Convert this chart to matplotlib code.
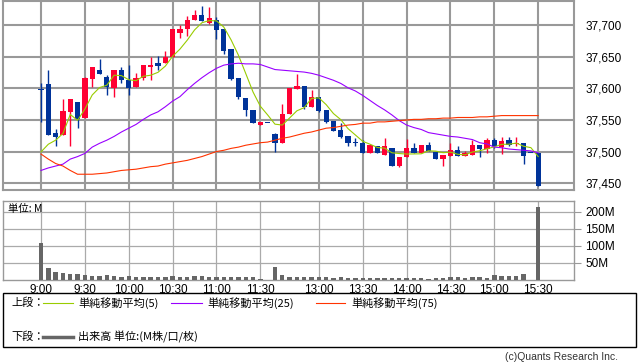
import numpy as np
import pandas as pd
import matplotlib as mpl
import matplotlib.pyplot as plt
from matplotlib.lines import Line2D
from matplotlib.patches import Rectangle

mpl.use("Agg")

plt.rcParams.update({"font.family": ["Liberation Sans", "DejaVu Sans"]})
plt.rcParams.update({"font.size": 8})

cjk = ["Noto Sans CJK JP", "DejaVu Sans"]

# 5 minute bars, 9:00 .. 15:30 (lunch removed)
tick_pos = [0, 6, 12, 18, 24, 30, 38, 44, 50, 56, 62, 68]
tick_labels = ["9:00", "9:30", "10:00", "10:30", "11:00", "11:30",
               "13:00", "13:30", "14:00", "14:30", "15:00", "15:30"]

opens = [37598, 37607, 37529, 37526, 37563, 37578, 37553, 37615, 37629, 37618,
         37601, 37630, 37613, 37603, 37617, 37634, 37641, 37641, 37650, 37688,
         37694, 37708, 37717, 37704, 37708, 37694, 37663, 37616, 37585, 37566,
         37542, 37546, 37528, 37514, 37559, 37599, 37604, 37571, 37586, 37566,
         37549, 37534, 37524, 37514, 37514, 37497, 37509, 37495, 37506, 37477,
         37492, 37506, 37497, 37510, 37500, 37488, 37493, 37502, 37493, 37494,
         37510, 37504, 37518, 37507, 37518, 37512, 37514, 37497, 37498]
highs = [37609, 37629, 37535, 37584, 37583, 37578, 37618, 37634, 37647, 37621,
         37630, 37634, 37637, 37624, 37637, 37650, 37651, 37660, 37694, 37700,
         37715, 37725, 37730, 37729, 37714, 37694, 37663, 37616, 37585, 37566,
         37547, 37546, 37530, 37575, 37601, 37623, 37604, 37598, 37586, 37566,
         37549, 37545, 37524, 37521, 37519, 37510, 37509, 37522, 37506, 37491,
         37520, 37513, 37510, 37515, 37500, 37494, 37513, 37509, 37501, 37518,
         37510, 37522, 37522, 37523, 37523, 37523, 37514, 37497, 37498]
lows = [37547, 37526, 37509, 37526, 37509, 37537, 37553, 37603, 37623, 37589,
        37587, 37608, 37589, 37603, 37613, 37613, 37629, 37641, 37650, 37680,
        37683, 37708, 37707, 37703, 37678, 37655, 37614, 37583, 37556, 37545,
        37542, 37546, 37500, 37514, 37559, 37599, 37567, 37570, 37562, 37546,
        37532, 37522, 37508, 37508, 37497, 37497, 37497, 37495, 37477, 37475,
        37491, 37498, 37497, 37501, 37488, 37477, 37493, 37493, 37493, 37494,
        37492, 37498, 37506, 37496, 37509, 37509, 37480, 37497, 37446]
closes = [37598, 37526, 37523, 37564, 37583, 37551, 37616, 37634, 37623, 37602,
          37630, 37613, 37601, 37616, 37637, 37638, 37636, 37650, 37694, 37694,
          37709, 37717, 37707, 37711, 37692, 37660, 37615, 37586, 37566, 37545,
          37547, 37546, 37513, 37559, 37601, 37604, 37571, 37586, 37564, 37547,
          37533, 37523, 37514, 37514, 37497, 37510, 37497, 37509, 37477, 37491,
          37506, 37498, 37510, 37501, 37488, 37494, 37502, 37493, 37497, 37510,
          37504, 37518, 37508, 37517, 37511, 37513, 37493, 37497, 37446]
prev_closes = [37465, 37491, 37511, 37432]

ma25 = [37470, 37474, 37477, 37480, 37488, 37492, 37497, 37507, 37513, 37518,
        37524, 37531, 37537, 37543, 37551, 37558, 37563, 37571, 37580, 37587,
        37598, 37608, 37617, 37625, 37632, 37637, 37639, 37640, 37639, 37639,
        37638, 37634, 37630, 37629, 37628, 37627, 37626, 37624, 37621, 37617,
        37613, 37608, 37601, 37596, 37589, 37581, 37573, 37566, 37558, 37549,
        37542, 37538, 37535, 37530, 37528, 37526, 37524, 37523, 37521, 37519,
        37514, 37512, 37507, 37506, 37504, 37503, 37502, 37501, 37498]
ma75 = [37496, 37488, 37481, 37477, 37470, 37464, 37464, 37464, 37465, 37466,
        37468, 37470, 37471, 37472, 37474, 37476, 37477, 37480, 37482, 37484,
        37486, 37489, 37492, 37496, 37500, 37502, 37505, 37507, 37510, 37512,
        37514, 37515, 37518, 37521, 37523, 37526, 37529, 37531, 37534, 37537,
        37538, 37540, 37542, 37543, 37545, 37545, 37547, 37547, 37548, 37549,
        37550, 37551, 37551, 37552, 37552, 37553, 37553, 37554, 37554, 37554,
        37555, 37555, 37556, 37557, 37557, 37557, 37557, 37557, 37557]

# volume, millions
volumes = [109, 36, 24, 20.5, 17.6, 17.6, 14.6, 12.7, 12.7, 14.6,
           12.7, 9.8, 12.7, 9.8, 9.8, 9.8, 7.8, 9.8, 12.7, 9.8,
           9.8, 12.7, 10.7, 9.8, 7.8, 7.8, 9.8, 9.8, 9.8, 8.8,
           2, 0, 39, 14.6, 9.8, 9.8, 9.8, 9.8, 7.8, 7.8,
           4.9, 8.8, 5.9, 5.9, 5.9, 5.9, 5.9, 5.9, 5.9, 5.9,
           5.9, 5.9, 5.9, 2.9, 5.9, 5.9, 8.8, 7.8, 5.9, 8.8,
           8.8, 5.9, 14.6, 12.7, 12.7, 12.7, 17.6, 0, 214]

price_ticks = [37450, 37500, 37550, 37600, 37650, 37700]
vol_ticks = [50, 100, 150, 200]

up_color = "#ff0033"
down_color = "#003399"
grid_color = "#999999"

W, H = 638, 362


def box(x0, y0, x1, y1):
    return [x0 / W, 1 - y1 / H, (x1 - x0) / W, (y1 - y0) / H]


fig = plt.figure(figsize=(W / 100, H / 100), dpi=100)
ax = fig.add_axes(box(3, 0.5, 574, 190))
axv = fig.add_axes(box(3, 201, 574, 280))

x = np.arange(len(closes))
ma5 = pd.Series(prev_closes + closes).rolling(5).mean().to_numpy()[4:]

# candles
for i in x:
    o, h, l, c = opens[i], highs[i], lows[i], closes[i]
    col = up_color if c > o else down_color
    ax.vlines(i, l, h, color=col, lw=1.0, zorder=3)
    ax.bar(i, max(abs(c - o), 1.6), bottom=min(o, c), width=0.72,
           color=col, zorder=3)

ax.plot(x, ma5, color="#99cc00", lw=0.8, zorder=4)
ax.plot(x, ma25, color="#9900ff", lw=0.8, zorder=4)
ax.plot(x, ma75, color="#ff3300", lw=0.8, zorder=4)

ax.set_xlim(-5.2, 72.9)
ax.set_ylim(37439, 37739.5)
ax.set_xticks(tick_pos)
ax.set_yticks(price_ticks)
ax.set_yticklabels([f"{v:,}" for v in price_ticks])
ax.yaxis.tick_right()
ax.tick_params(axis="x", labelbottom=False, length=0)
ax.tick_params(axis="y", length=0, pad=8, labelsize=8.5)
ax.grid(True, color=grid_color, lw=1.5)
ax.set_axisbelow(True)
for s in ax.spines.values():
    s.set_color(grid_color)
    s.set_linewidth(1.5)

# volume
axv.bar(x, volumes, width=0.6, color="#666666", zorder=3)
axv.set_xlim(-5.2, 72.9)
axv.set_ylim(0, 231)
axv.set_xticks(tick_pos)
axv.set_xticklabels(tick_labels)
axv.set_yticks(vol_ticks)
axv.set_yticklabels([f"{v}M" for v in vol_ticks])
axv.yaxis.tick_right()
axv.tick_params(axis="x", length=0, pad=3, labelsize=8.5)
axv.tick_params(axis="y", length=5, color=grid_color, pad=3, labelsize=8.5)
axv.grid(True, color="#aaaaaa", lw=0.9)
axv.set_axisbelow(True)
for s in axv.spines.values():
    s.set_color(grid_color)
    s.set_linewidth(1.0)

fig.text(8 / W, 1 - 209 / H, "単位: M", family=cjk, fontsize=7.5, va="center")

# legend box
fig.add_artist(Rectangle((3 / W, 1 - 347 / H), 633 / W, 54 / H,
                         transform=fig.transFigure, fill=False,
                         edgecolor="black", lw=1.0))
row1 = 1 - 303 / H
row2 = 1 - 337 / H
fig.text(11 / W, row1, "上段：", family=cjk, fontsize=8, va="center")
fig.text(11 / W, row2, "下段：", family=cjk, fontsize=8, va="center")
legend_items = [(43, 73, 78, "#99cc00", "単純移動平均(5)"),
                (171, 202, 207, "#9900ff", "単純移動平均(25)"),
                (316, 345, 351, "#ff3300", "単純移動平均(75)")]
for x0, x1, tx, col, label in legend_items:
    fig.add_artist(Line2D([x0 / W, x1 / W], [row1, row1], color=col, lw=0.8,
                          transform=fig.transFigure))
    fig.text(tx / W, row1, label, family=cjk, fontsize=8, va="center")
fig.add_artist(Line2D([43 / W, 73 / W], [row2, row2], color="#666666", lw=2.5,
                      transform=fig.transFigure))
fig.text(78 / W, row2, "出来高 単位:(M株/口/枚)", family=cjk, fontsize=8,
         va="center")

fig.text(618 / W, 1 - 357 / H, "(c)Quants Research Inc.", fontsize=7.5,
         ha="right", va="center", color="#333333")

fig.savefig("out.png", dpi=100)
